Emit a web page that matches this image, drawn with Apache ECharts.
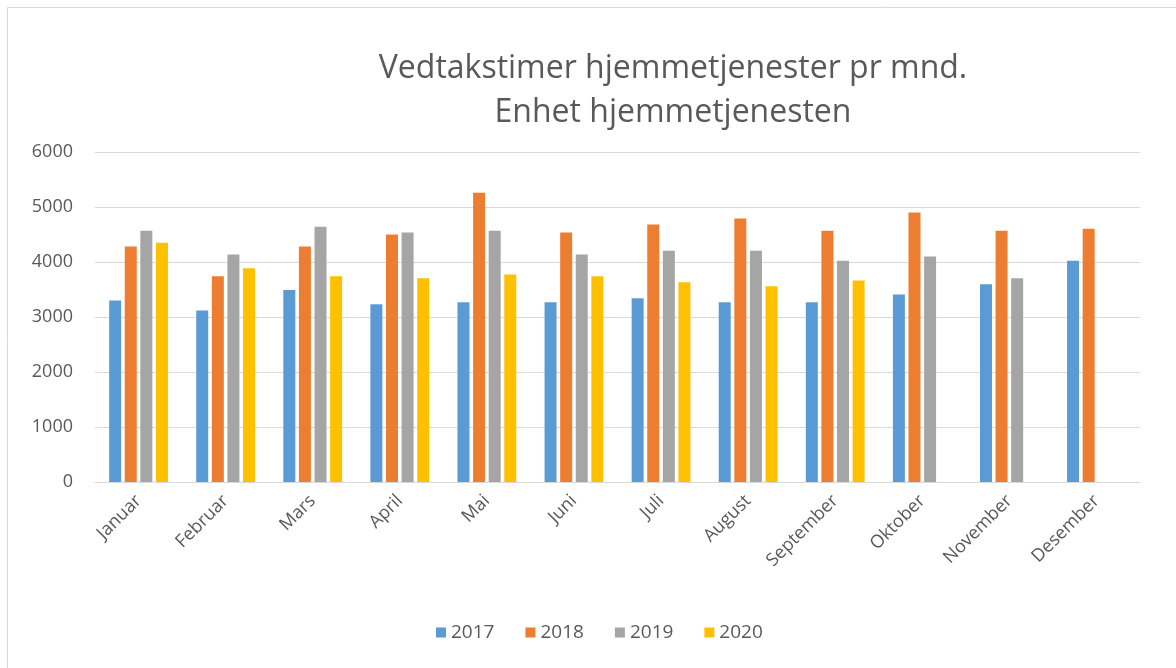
<!DOCTYPE html>
<html>
<head>
<meta charset="utf-8">
<script src="https://cdn.jsdelivr.net/npm/echarts@6/dist/echarts.min.js"></script>
<style>
  body { margin: 0; background: #fff; overflow: hidden; }
  #chart { width: 1176px; height: 668px; }
</style>
</head>
<body>
<div id="chart"></div>
<script>
const months = ['Januar', 'Februar', 'Mars', 'April', 'Mai', 'Juni', 'Juli', 'August', 'September', 'Oktober', 'November', 'Desember']
const years = ['2017', '2018', '2019', '2020']
const v2017 = [3300, 3120, 3490, 3230, 3270, 3270, 3340, 3270, 3270, 3410, 3595, 4025]
const v2018 = [4280, 3740, 4280, 4500, 5260, 4535, 4680, 4790, 4570, 4900, 4570, 4605]
const v2019 = [4570, 4135, 4640, 4535, 4570, 4135, 4205, 4205, 4025, 4100, 3705, null]
const v2020 = [4350, 3885, 3740, 3705, 3775, 3740, 3630, 3560, 3665, null, null, null]
const colors = ['#5b9bd5', '#ed7d31', '#a5a5a5', '#ffc000']

const textColor = '#595959'
const font = 'Open Sans'

let myChart = echarts.init(document.getElementById('chart'))
let allValues = [v2017, v2018, v2019, v2020]
let series = years.map(function (y, i) {
  return {
    name: y,
    type: 'bar',
    data: allValues[i],
    barWidth: 12,
    barGap: '30%',
    itemStyle: { color: colors[i] }
  }
})

let option = {
  animation: false,
  backgroundColor: '#fff',
  textStyle: { fontFamily: font },
  graphic: [{
    type: 'rect',
    shape: { x: 7.5, y: 7.5, width: 1200, height: 700 },
    style: { fill: 'none', stroke: '#d9d9d9', lineWidth: 1 },
    silent: true
  }],
  title: {
    text: 'Vedtakstimer hjemmetjenester pr mnd.\nEnhet hjemmetjenesten',
    left: 668,
    top: 42,
    textAlign: 'center',
    textStyle: {
      fontFamily: font,
      fontWeight: 'normal',
      fontSize: 32,
      lineHeight: 44,
      color: textColor
    }
  },
  legend: {
    data: years,
    bottom: 21,
    left: 431,
    itemWidth: 10,
    itemHeight: 10,
    itemGap: 31,
    icon: 'rect',
    textStyle: { fontFamily: font, fontSize: 19, color: textColor }
  },
  grid: {
    left: 95,
    right: 36,
    top: 152,
    bottom: 186,
    containLabel: false
  },
  xAxis: {
    type: 'category',
    data: months,
    axisLine: { lineStyle: { color: '#d9d9d9' } },
    axisTick: { show: false },
    axisLabel: {
      rotate: 45,
      margin: 16,
      fontFamily: font,
      fontSize: 18,
      color: textColor
    }
  },
  yAxis: {
    type: 'value',
    min: 0,
    max: 6000,
    interval: 1000,
    axisLine: { show: false },
    axisTick: { show: false },
    splitLine: { lineStyle: { color: '#d9d9d9', width: 1 } },
    axisLabel: {
      margin: 22,
      fontFamily: font,
      fontSize: 18,
      color: textColor,
      formatter: function (v) { return String(v) }
    }
  },
  series: series
}
myChart.setOption(option)
</script>
</body>
</html>
